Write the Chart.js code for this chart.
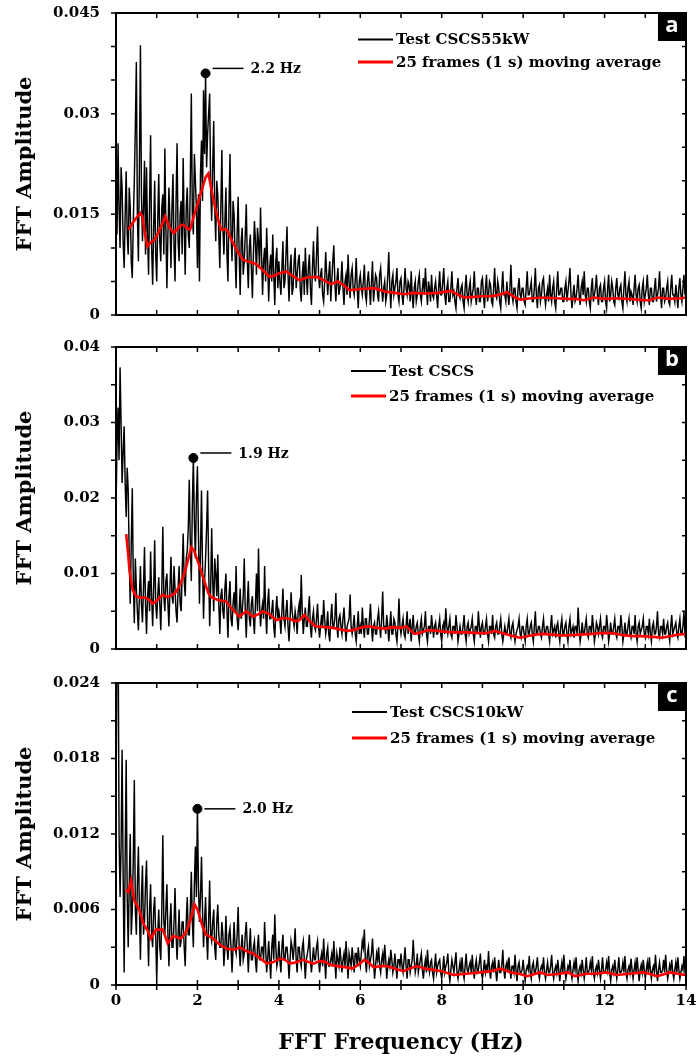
<!DOCTYPE html>
<html><head><meta charset="utf-8">
<script src="https://cdn.jsdelivr.net/npm/chart.js@4.4.1/dist/chart.umd.min.js"></script>
<style>
html,body{margin:0;padding:0;background:#fff;}
#wrap{position:relative;width:697px;height:1061px;background:#fff;}
canvas{position:absolute;left:0;top:0;}
</style></head><body><div id="wrap">
<canvas id="ca" width="697" height="1061"></canvas>
<canvas id="cb" width="697" height="1061"></canvas>
<canvas id="cc" width="697" height="1061"></canvas>
</div>
<script>
// ---------- DATA ----------
const binWidthHz = 0.025; // FFT bin spacing of the spectra below (first bin at 0 Hz)

const spectrumA = [
0.018,0.012,0.0256,0.016,0.01,0.022,0.019,0.011,0.007,0.015,0.0214,0.012,0.009,0.019,0.016,0.008,0.0055,0.014,0.02,0.028,
0.0377,0.015,0.008,0.022,0.0402,0.018,0.011,0.016,0.023,0.009,0.022,0.012,0.006,0.017,0.0268,0.01,0.0045,0.013,0.02,0.009,
0.005,0.014,0.021,0.011,0.008,0.016,0.018,0.009,0.0248,0.013,0.004,0.012,0.019,0.014,0.007,0.016,0.021,0.01,0.005,0.017,
0.0256,0.011,0.008,0.015,0.017,0.009,0.0234,0.013,0.006,0.016,0.019,0.012,0.01,0.02,0.033,0.015,0.012,0.024,0.02,0.016,
0.007,0.018,0.005,0.021,0.026,0.017,0.0335,0.024,0.036,0.022,0.027,0.03,0.033,0.019,0.014,0.022,0.0289,0.016,0.011,0.02,
0.018,0.012,0.007,0.016,0.0246,0.013,0.009,0.014,0.019,0.009,0.005,0.016,0.024,0.012,0.008,0.017,0.015,0.009,0.004,0.012,
0.0176,0.009,0.003,0.011,0.013,0.006,0.008,0.012,0.0165,0.008,0.004,0.01,0.012,0.007,0.0025,0.009,0.014,0.011,0.006,0.013,
0.011,0.007,0.016,0.009,0.003,0.008,0.01,0.005,0.013,0.008,0.002,0.007,0.009,0.005,0.012,0.006,0.0015,0.008,0.01,0.004,
0.008,0.005,0.003,0.007,0.011,0.004,0.005,0.009,0.0132,0.006,0.002,0.007,0.009,0.003,0.004,0.008,0.01,0.004,0.006,0.008,
0.009,0.004,0.002,0.006,0.008,0.003,0.01,0.006,0.003,0.007,0.009,0.004,0.0015,0.007,0.011,0.006,0.005,0.009,0.0132,0.006,
0.004,0.006,0.007,0.003,0.002,0.005,0.0094,0.006,0.003,0.006,0.008,0.002,0.005,0.008,0.0104,0.005,0.002,0.005,0.007,0.003,
0.004,0.005,0.008,0.004,0.0015,0.005,0.006,0.003,0.009,0.005,0.0025,0.006,0.007,0.004,0.003,0.005,0.0085,0.004,0.001,0.005,
0.006,0.004,0.003,0.005,0.0075,0.003,0.002,0.005,0.0065,0.004,0.0015,0.005,0.008,0.002,0.004,0.006,0.0055,0.003,0.002,0.006,
0.007,0.004,0.002,0.004,0.005,0.002,0.003,0.006,0.0094,0.004,0.001,0.005,0.006,0.003,0.004,0.005,0.007,0.003,0.002,0.005,
0.0055,0.003,0.0015,0.004,0.007,0.004,0.003,0.005,0.0045,0.002,0.0065,0.003,0.001,0.004,0.005,0.002,0.003,0.005,0.006,0.003,
0.002,0.004,0.0055,0.003,0.007,0.004,0.0015,0.005,0.004,0.002,0.006,0.003,0.0025,0.004,0.005,0.003,0.001,0.004,0.0065,0.003,
0.003,0.005,0.007,0.003,0.0015,0.004,0.005,0.002,0.002,0.004,0.0065,0.003,0.0035,0.002,0.001,0.004,0.0055,0.003,0.0025,0.004,
0.0045,0.002,0.001,0.004,0.006,0.003,0.002,0.004,0.005,0.002,0.003,0.004,0.0065,0.003,0.0015,0.004,0.004,0.002,0.002,0.005,
0.0055,0.003,0.001,0.004,0.006,0.002,0.003,0.005,0.0045,0.002,0.0015,0.004,0.007,0.003,0.0025,0.005,0.004,0.002,0.001,0.004,
0.0065,0.003,0.003,0.002,0.005,0.003,0.0015,0.004,0.0075,0.003,0.002,0.004,0.004,0.002,0.001,0.004,0.0055,0.003,0.0025,0.004,
0.004,0.002,0.0015,0.004,0.0065,0.003,0.003,0.004,0.005,0.002,0.002,0.004,0.007,0.003,0.001,0.004,0.0045,0.002,0.003,0.005,
0.0055,0.003,0.0015,0.003,0.004,0.002,0.006,0.003,0.002,0.004,0.005,0.002,0.001,0.004,0.0065,0.003,0.003,0.004,0.004,0.002,
0.002,0.004,0.005,0.002,0.0035,0.005,0.007,0.003,0.001,0.003,0.0045,0.002,0.0025,0.004,0.006,0.003,0.0015,0.004,0.005,0.003,
0.0065,0.003,0.002,0.004,0.004,0.002,0.001,0.004,0.0055,0.002,0.003,0.004,0.006,0.003,0.0015,0.004,0.0045,0.002,0.002,0.004,
0.005,0.002,0.001,0.004,0.006,0.002,0.003,0.005,0.004,0.002,0.0015,0.004,0.0055,0.003,0.0025,0.004,0.0045,0.002,0.001,0.004,
0.0065,0.003,0.002,0.004,0.005,0.002,0.0035,0.003,0.0015,0.004,0.006,0.003,0.002,0.004,0.0045,0.002,0.001,0.004,0.005,0.002,
0.003,0.004,0.006,0.003,0.0015,0.004,0.004,0.002,0.002,0.004,0.0055,0.002,0.003,0.004,0.0065,0.003,0.001,0.004,0.004,0.002,
0.0025,0.004,0.005,0.002,0.0015,0.004,0.006,0.003,0.003,0.002,0.0045,0.003,0.001,0.004,0.0055,0.003,0.002,0.004,0.006,0.003,
0.003];

const spectrumB = [
0.0184,0.027,0.032,0.025,0.0373,0.03,0.022,0.026,0.0295,0.022,0.0175,0.024,0.021,0.012,0.006,0.014,0.0213,0.009,0.0034,0.012,
0.008,0.005,0.0025,0.007,0.011,0.006,0.0035,0.008,0.0135,0.006,0.002,0.007,0.009,0.005,0.0129,0.007,0.003,0.008,0.0144,0.006,
0.004,0.007,0.0095,0.006,0.0025,0.008,0.0162,0.007,0.005,0.009,0.01,0.006,0.003,0.008,0.0122,0.007,0.006,0.011,0.008,0.005,
0.0035,0.008,0.011,0.006,0.005,0.01,0.0153,0.009,0.007,0.012,0.013,0.016,0.0224,0.014,0.009,0.019,0.0253,0.017,0.012,0.02,
0.0242,0.015,0.006,0.013,0.021,0.011,0.004,0.009,0.012,0.016,0.021,0.011,0.003,0.008,0.016,0.009,0.005,0.012,0.01,0.007,
0.0125,0.006,0.002,0.007,0.008,0.005,0.004,0.008,0.01,0.005,0.0015,0.007,0.009,0.004,0.003,0.006,0.0075,0.005,0.011,0.004,
0.0025,0.005,0.008,0.004,0.005,0.007,0.012,0.005,0.0015,0.006,0.009,0.004,0.003,0.006,0.007,0.004,0.002,0.006,0.01,0.005,
0.0133,0.006,0.003,0.005,0.006,0.004,0.011,0.005,0.002,0.006,0.008,0.004,0.004,0.005,0.0065,0.003,0.0015,0.005,0.007,0.004,
0.005,0.004,0.002,0.005,0.008,0.004,0.003,0.005,0.0065,0.003,0.001,0.004,0.0075,0.005,0.004,0.003,0.005,0.004,0.002,0.005,
0.006,0.004,0.0098,0.005,0.002,0.004,0.0055,0.003,0.003,0.005,0.007,0.003,0.0015,0.004,0.005,0.003,0.0025,0.004,0.006,0.003,
0.0015,0.003,0.0045,0.003,0.0065,0.004,0.002,0.003,0.005,0.002,0.001,0.004,0.006,0.003,0.003,0.004,0.0074,0.003,0.0015,0.004,
0.0045,0.003,0.002,0.004,0.0055,0.003,0.001,0.003,0.0035,0.004,0.0072,0.003,0.002,0.003,0.0045,0.002,0.001,0.003,0.005,0.002,
0.003,0.002,0.0055,0.003,0.0015,0.004,0.004,0.002,0.002,0.004,0.006,0.003,0.001,0.003,0.0035,0.002,0.002,0.004,0.005,0.003,
0.0015,0.004,0.0076,0.003,0.003,0.002,0.0045,0.003,0.001,0.003,0.005,0.002,0.002,0.004,0.0035,0.002,0.001,0.003,0.0067,0.003,
0.002,0.003,0.004,0.002,0.0015,0.003,0.005,0.002,0.003,0.004,0.001,0.003,0.0045,0.002,0.002,0.003,0.0035,0.002,0.001,0.003,
0.004,0.002,0.0025,0.003,0.005,0.002,0.001,0.003,0.003,0.002,0.0045,0.003,0.0015,0.003,0.0035,0.002,0.002,0.003,0.004,0.002,
0.001,0.003,0.0035,0.002,0.0054,0.003,0.002,0.003,0.004,0.002,0.0015,0.003,0.003,0.002,0.0045,0.003,0.001,0.002,0.003,0.002,
0.002,0.003,0.0045,0.002,0.001,0.003,0.0035,0.002,0.0025,0.003,0.004,0.002,0.001,0.003,0.003,0.002,0.005,0.003,0.0015,0.003,
0.0035,0.002,0.002,0.003,0.004,0.002,0.001,0.003,0.003,0.002,0.0045,0.002,0.0015,0.003,0.0035,0.002,0.002,0.003,0.004,0.002,
0.001,0.002,0.003,0.002,0.002,0.003,0.004,0.002,0.0015,0.003,0.0035,0.002,0.001,0.002,0.0025,0.003,0.004,0.002,0.0015,0.003,
0.003,0.002,0.001,0.003,0.004,0.002,0.002,0.003,0.0035,0.002,0.001,0.003,0.005,0.002,0.002,0.003,0.003,0.002,0.0015,0.003,
0.004,0.002,0.002,0.003,0.003,0.002,0.001,0.003,0.0045,0.002,0.0025,0.003,0.0015,0.003,0.0035,0.002,0.001,0.003,0.004,0.002,
0.002,0.003,0.0035,0.002,0.001,0.003,0.004,0.002,0.0025,0.003,0.0015,0.003,0.003,0.002,0.0055,0.003,0.001,0.002,0.0035,0.002,
0.002,0.003,0.004,0.002,0.0015,0.003,0.003,0.002,0.0045,0.003,0.001,0.002,0.0035,0.003,0.002,0.003,0.004,0.002,0.0015,0.003,
0.003,0.002,0.0045,0.003,0.001,0.002,0.0035,0.002,0.002,0.003,0.004,0.002,0.0015,0.003,0.003,0.002,0.0045,0.003,0.001,0.002,
0.0035,0.002,0.002,0.003,0.004,0.002,0.0015,0.003,0.003,0.002,0.0045,0.002,0.001,0.003,0.0035,0.002,0.0025,0.003,0.004,0.002,
0.0015,0.003,0.003,0.002,0.004,0.002,0.001,0.003,0.0035,0.002,0.002,0.003,0.005,0.002,0.0015,0.003,0.003,0.002,0.004,0.002,
0.002,0.003,0.0035,0.002,0.001,0.003,0.0045,0.002,0.0025,0.003,0.0035,0.002,0.0015,0.003,0.004,0.002,0.002,0.003,0.005,0.002,
0.0025];

const spectrumC = [
0.0132,0.028,0.03,0.012,0.007,0.011,0.0187,0.009,0.001,0.01,0.0179,0.007,0.003,0.008,0.012,0.004,0.006,0.01,0.0163,0.006,
0.004,0.008,0.011,0.006,0.002,0.007,0.0095,0.004,0.005,0.008,0.0099,0.005,0.0015,0.006,0.008,0.004,0.003,0.006,0.007,0.004,
0.0003,0.004,0.006,0.003,0.002,0.006,0.0119,0.005,0.004,0.006,0.008,0.004,0.0015,0.005,0.0065,0.003,0.003,0.005,0.0077,0.004,
0.002,0.004,0.006,0.003,0.0035,0.005,0.005,0.003,0.0015,0.005,0.007,0.004,0.004,0.006,0.009,0.005,0.003,0.008,0.011,0.007,
0.014,0.008,0.005,0.007,0.0102,0.006,0.003,0.005,0.007,0.004,0.002,0.005,0.0083,0.004,0.0035,0.005,0.006,0.003,0.002,0.005,
0.0064,0.004,0.003,0.003,0.005,0.004,0.0015,0.003,0.0055,0.003,0.002,0.004,0.0045,0.003,0.001,0.003,0.005,0.003,0.0025,0.004,
0.0062,0.003,0.0015,0.003,0.004,0.002,0.0025,0.004,0.005,0.003,0.001,0.003,0.0045,0.002,0.002,0.003,0.0035,0.002,0.001,0.003,
0.004,0.002,0.002,0.003,0.003,0.002,0.005,0.003,0.001,0.002,0.0035,0.002,0.0005,0.003,0.004,0.002,0.0056,0.003,0.0015,0.002,
0.0035,0.002,0.001,0.003,0.004,0.002,0.002,0.003,0.003,0.002,0.0005,0.002,0.0035,0.003,0.002,0.003,0.0045,0.002,0.001,0.003,
0.003,0.002,0.0015,0.003,0.0035,0.002,0.0005,0.002,0.0025,0.003,0.004,0.002,0.001,0.002,0.003,0.002,0.002,0.003,0.0035,0.002,
0.001,0.002,0.0025,0.0015,0.0037,0.002,0.0005,0.0025,0.003,0.0015,0.0015,0.002,0.0025,0.0015,0.0035,0.002,0.0005,0.0025,0.002,0.0015,
0.003,0.002,0.001,0.002,0.0025,0.0015,0.0035,0.002,0.0005,0.0025,0.002,0.0015,0.003,0.002,0.001,0.0025,0.0025,0.0015,0.003,0.002,
0.0015,0.0025,0.0035,0.003,0.0044,0.002,0.001,0.0025,0.003,0.0015,0.002,0.0025,0.0037,0.002,0.0005,0.0015,0.0025,0.002,0.003,0.0015,
0.001,0.002,0.0025,0.0015,0.0032,0.002,0.0005,0.0015,0.002,0.0015,0.0028,0.002,0.001,0.0015,0.0025,0.0015,0.0005,0.002,0.002,0.0015,
0.0025,0.0015,0.001,0.002,0.003,0.0015,0.0005,0.002,0.002,0.001,0.0015,0.002,0.0036,0.002,0.001,0.0015,0.0025,0.001,0.0015,0.002,
0.0025,0.0012,0.0005,0.0015,0.002,0.001,0.0028,0.0015,0.001,0.0018,0.002,0.001,0.0005,0.0015,0.0025,0.001,0.0015,0.0018,0.002,0.001,
0.0005,0.0012,0.0023,0.001,0.0015,0.0018,0.0025,0.001,0.0003,0.0012,0.002,0.0015,0.001,0.0018,0.0026,0.001,0.0005,0.0012,0.0018,0.001,
0.0022,0.001,0.0005,0.0015,0.0025,0.0012,0.001,0.0015,0.0018,0.001,0.0024,0.0012,0.0005,0.0015,0.002,0.001,0.0012,0.0018,0.0025,0.001,
0.0005,0.0012,0.002,0.001,0.0015,0.0012,0.0027,0.0012,0.0005,0.0015,0.0018,0.001,0.0022,0.0012,0.0003,0.0012,0.002,0.001,0.001,0.0015,
0.0028,0.0012,0.0005,0.0015,0.0018,0.001,0.0022,0.0012,0.0005,0.0015,0.0015,0.001,0.0024,0.0012,0.0003,0.0015,0.0018,0.001,0.001,0.0012,
0.002,0.001,0.0003,0.0012,0.0015,0.0012,0.0023,0.001,0.0005,0.0015,0.0018,0.001,0.001,0.0015,0.0022,0.001,0.0005,0.0012,0.0015,0.0012,
0.0022,0.001,0.0005,0.0012,0.0018,0.001,0.001,0.0015,0.0024,0.001,0.0005,0.0012,0.0015,0.001,0.002,0.0012,0.0003,0.0012,0.0018,0.001,
0.0024,0.0012,0.0005,0.001,0.0015,0.0012,0.002,0.001,0.0005,0.0012,0.0018,0.0012,0.0022,0.001,0.0003,0.0012,0.0015,0.001,0.002,0.0012,
0.0005,0.0012,0.0022,0.001,0.001,0.0012,0.0018,0.0012,0.0023,0.001,0.0005,0.0012,0.0015,0.001,0.002,0.0012,0.0005,0.0012,0.0022,0.001,
0.001,0.0012,0.0018,0.0012,0.0023,0.001,0.0003,0.0012,0.0015,0.001,0.002,0.0012,0.0005,0.0012,0.0022,0.001,0.001,0.0012,0.0018,0.001,
0.0023,0.001,0.0005,0.0012,0.0015,0.001,0.0021,0.0012,0.0005,0.0012,0.0018,0.001,0.0022,0.0012,0.0003,0.0012,0.0016,0.001,0.002,0.0012,
0.0005,0.0012,0.0018,0.001,0.0022,0.0012,0.0005,0.0012,0.0015,0.001,0.0024,0.0012,0.0003,0.0012,0.0018,0.001,0.001,0.0012,0.002,0.001,
0.0024,0.0012,0.0005,0.001,0.0016,0.0012,0.002,0.001,0.0005,0.0012,0.0018,0.001,0.0022,0.0012,0.0005,0.001,0.0015,0.0012,0.0023,0.001,
0.001];

// 25-frame moving averages (frequency, amplitude)
const avgFreqA = [0.3,0.4,0.5,0.6,0.65,0.7,0.77,0.85,0.95,1.05,1.15,1.21,1.3,1.42,1.5,1.6,1.66,1.75,1.82,1.9,2.0,2.1,2.2,2.27,2.35,2.45,2.58,2.7,2.75,2.85,3.0,3.12,3.3,3.44,3.6,3.77,3.9,4.0,4.18,4.3,4.5,4.7,4.92,5.1,5.28,5.45,5.6,5.74,5.9,6.1,6.35,6.6,6.85,7.08,7.3,7.6,7.9,8.23,8.4,8.56,8.8,9.0,9.2,9.4,9.61,9.8,9.93,10.2,10.5,10.8,11.1,11.3,11.49,11.74,12.0,12.3,12.6,12.97,13.1,13.3,13.6,13.87,14.0];
const avgA = [0.0127,0.0136,0.0145,0.0152,0.0146,0.0125,0.0102,0.0108,0.0112,0.0124,0.0138,0.0147,0.0132,0.0122,0.0128,0.0134,0.0134,0.0129,0.0127,0.0145,0.0165,0.0185,0.0205,0.0211,0.0185,0.0155,0.0127,0.0128,0.0124,0.011,0.0093,0.0082,0.0079,0.0076,0.0067,0.0057,0.0059,0.0062,0.0065,0.006,0.0052,0.0056,0.0057,0.0052,0.0046,0.005,0.0044,0.0037,0.0038,0.0039,0.004,0.0035,0.0033,0.0031,0.0033,0.0032,0.0033,0.0036,0.003,0.0026,0.0027,0.0028,0.0028,0.003,0.0034,0.0026,0.0023,0.0025,0.0026,0.0025,0.0024,0.0024,0.0022,0.0026,0.0024,0.0025,0.0024,0.0022,0.0022,0.0026,0.0024,0.0025,0.0026];

const avgFreqB = [0.25,0.3,0.33,0.37,0.41,0.49,0.6,0.7,0.82,0.9,1.0,1.07,1.15,1.23,1.31,1.4,1.48,1.58,1.68,1.77,1.85,1.92,1.97,2.05,2.13,2.2,2.27,2.33,2.5,2.7,2.85,3.03,3.2,3.36,3.5,3.6,3.75,3.93,4.1,4.26,4.4,4.5,4.63,4.75,4.9,5.12,5.33,5.5,5.7,5.9,6.05,6.23,6.4,6.6,6.8,7.0,7.13,7.33,7.5,7.66,7.9,8.06,8.3,8.6,8.9,9.1,9.3,9.5,9.7,9.92,10.1,10.3,10.5,10.7,10.9,11.1,11.4,11.7,11.9,12.2,12.5,12.7,12.9,13.2,13.4,13.6,13.8,14.0];
const avgB = [0.0152,0.0125,0.0105,0.009,0.0078,0.007,0.0068,0.0068,0.0065,0.006,0.0064,0.0068,0.0072,0.0069,0.007,0.0072,0.0076,0.0086,0.01,0.0118,0.0135,0.013,0.0122,0.011,0.0096,0.0085,0.0074,0.0069,0.0065,0.0063,0.0053,0.0043,0.005,0.0043,0.0046,0.005,0.0047,0.0038,0.0041,0.004,0.0037,0.0038,0.0045,0.0037,0.003,0.0029,0.0028,0.0026,0.0024,0.0026,0.0029,0.003,0.0028,0.0027,0.0029,0.0028,0.003,0.002,0.0022,0.0025,0.0024,0.0023,0.0022,0.0022,0.0021,0.0021,0.0024,0.0021,0.0018,0.0015,0.0017,0.0019,0.002,0.0019,0.0018,0.0018,0.0019,0.002,0.0021,0.0021,0.0018,0.0017,0.0017,0.0016,0.0015,0.0017,0.0019,0.002];

const avgFreqC = [0.25,0.3,0.37,0.45,0.57,0.67,0.78,0.86,0.98,1.15,1.27,1.4,1.5,1.6,1.7,1.77,1.85,1.93,2.0,2.05,2.13,2.21,2.38,2.55,2.71,2.9,3.04,3.2,3.37,3.55,3.7,3.85,4.03,4.15,4.27,4.42,4.6,4.75,4.85,5.0,5.1,5.25,5.44,5.66,5.8,5.95,6.1,6.2,6.33,6.5,6.66,6.85,7.06,7.2,7.39,7.6,7.8,8.0,8.29,8.6,8.95,9.2,9.44,9.7,9.9,10.1,10.42,10.6,10.9,11.1,11.27,11.56,11.8,12.05,12.3,12.6,12.95,13.1,13.3,13.6,13.8,13.95,14.0];
const avgC = [0.0076,0.0074,0.0083,0.0067,0.006,0.0049,0.0043,0.0037,0.0044,0.0044,0.0033,0.0039,0.0038,0.0037,0.0041,0.0046,0.0054,0.0064,0.006,0.0055,0.0046,0.004,0.0037,0.0032,0.0029,0.0028,0.003,0.0027,0.0025,0.0021,0.0017,0.0018,0.0021,0.002,0.0017,0.0018,0.002,0.0018,0.0017,0.0019,0.0019,0.0016,0.0015,0.0014,0.0013,0.0016,0.002,0.0018,0.0014,0.0015,0.0015,0.0013,0.0011,0.0013,0.0015,0.0013,0.0012,0.0011,0.0008,0.0009,0.001,0.0011,0.0013,0.001,0.0009,0.0007,0.001,0.0008,0.0009,0.001,0.0007,0.0009,0.0009,0.001,0.0008,0.0009,0.001,0.0009,0.0007,0.001,0.0009,0.0008,0.0009];

const seriesNames = ['Test CSCS55kW', 'Test CSCS', 'Test CSCS10kW'];
const avgName = '25 frames (1 s) moving average';
const panelLetters = ['a', 'b', 'c'];
const peakFreq = [2.2, 1.9, 2.0];
const peakAmp = [0.036, 0.0253, 0.014];
const peakLabels = ['2.2 Hz', '1.9 Hz', '2.0 Hz'];

const yTicksA = [0, 0.015, 0.03, 0.045];
const yTicksB = [0, 0.01, 0.02, 0.03, 0.04];
const yTicksC = [0, 0.006, 0.012, 0.018, 0.024];
const yMarksA = [0,0.005,0.01,0.015,0.02,0.025,0.03,0.035,0.04,0.045];
const yMarksB = [0,0.005,0.01,0.015,0.02,0.025,0.03,0.035,0.04];
const yMarksC = [0,0.003,0.006,0.009,0.012,0.015,0.018,0.021,0.024];
const xTickLabels = [0, 2, 4, 6, 8, 10, 12, 14];
const xTickMarks = [0,1,2,3,4,5,6,7,8,9,10,11,12,13,14];
const xTitle = 'FFT Frequency (Hz)';
const yTitle = 'FFT Amplitude';

// ---------- RENDER ----------
const SERIF = 'DejaVu Serif';
const toBins = arr => arr.map((v, i) => ({x: Math.round(i * binWidthHz * 1000) / 1000, y: v}));
const toXY = (fs, vs) => fs.map((f, i) => ({x: f, y: vs[i]}));

const panelDecor = {
  id: 'panelDecor',
  afterDraw(chart, args, o) {
    const {ctx, chartArea: ca} = chart;
    const x = chart.scales.x, y = chart.scales.y;
    const tl = 5;
    ctx.save();
    ctx.strokeStyle = '#000';
    ctx.lineWidth = 1.5;
    ctx.beginPath();
    xTickMarks.forEach(f => {
      const px = x.getPixelForValue(f);
      ctx.moveTo(px, ca.top); ctx.lineTo(px, ca.top + tl);
      ctx.moveTo(px, ca.bottom + (o.bottomOut ? tl : 0)); ctx.lineTo(px, ca.bottom - tl);
    });
    o.yMarks.forEach(v => {
      const py = y.getPixelForValue(v);
      ctx.moveTo(ca.left - tl, py); ctx.lineTo(ca.left, py);
      ctx.moveTo(ca.right, py); ctx.lineTo(ca.right - 4, py);
    });
    ctx.stroke();
    ctx.lineWidth = 2;
    ctx.strokeRect(ca.left, ca.top, ca.right - ca.left, ca.bottom - ca.top);
    // panel letter
    ctx.fillStyle = '#000';
    ctx.fillRect(ca.right - 28, ca.top, 28, 28);
    ctx.fillStyle = '#fff';
    ctx.font = 'bold 22px "Open Sans"';
    ctx.textAlign = 'center'; ctx.textBaseline = 'middle';
    ctx.fillText(o.letter, ca.right - 14, ca.top + 13);
    // legend
    ctx.textAlign = 'left';
    ctx.fillStyle = '#000';
    ctx.font = 'bold 15px "' + SERIF + '"';
    const ds = chart.data.datasets;
    ctx.lineWidth = 2; ctx.strokeStyle = '#000';
    ctx.beginPath(); ctx.moveTo(o.legX - 38, o.legY1); ctx.lineTo(o.legX - 3, o.legY1); ctx.stroke();
    ctx.fillText(ds[2].label, o.legX, o.legY1 + 1);
    ctx.lineWidth = 3; ctx.strokeStyle = '#ff0000';
    ctx.beginPath(); ctx.moveTo(o.legX - 38, o.legY2); ctx.lineTo(o.legX - 3, o.legY2); ctx.stroke();
    ctx.fillText(ds[1].label, o.legX, o.legY2 + 1);
    // peak annotation
    const px = x.getPixelForValue(o.peakF), py = y.getPixelForValue(o.peakA);
    ctx.strokeStyle = '#000'; ctx.lineWidth = 1.5;
    ctx.beginPath(); ctx.moveTo(px + 7, py + o.annDy); ctx.lineTo(px + 38, py + o.annDy); ctx.stroke();
    ctx.font = 'bold 14px "' + SERIF + '"';
    ctx.fillText(o.peakLabel, px + 45, py + o.annDy + 1);
    ctx.restore();
  }
};

function makePanel(id, k, spectrum, avgF, avgV, yMax, yTicks, yMarks, showX, pad, legX, legY1, legY2, annDy) {
  return new Chart(document.getElementById(id), {
    type: 'line',
    data: {
      datasets: [
        {type: 'scatter', label: 'peak', data: [{x: peakFreq[k], y: peakAmp[k]}], pointRadius: 4.5, pointBackgroundColor: '#000', pointBorderColor: '#000', order: 1},
        {label: avgName, data: toXY(avgF, avgV), borderColor: '#ff0000', borderWidth: 2.6, pointRadius: 0, tension: 0, order: 2},
        {label: seriesNames[k], data: toBins(spectrum), borderColor: '#000', borderWidth: 1.45, pointRadius: 0, tension: 0, order: 3}
      ]
    },
    options: {
      responsive: false, animation: false, devicePixelRatio: 1,
      layout: {padding: pad},
      plugins: {
        legend: {display: false}, tooltip: {enabled: false},
        panelDecor: {letter: panelLetters[k], yMarks, bottomOut: showX, legX, legY1, legY2,
                     peakF: peakFreq[k], peakA: peakAmp[k], peakLabel: peakLabels[k], annDy}
      },
      scales: {
        x: {
          type: 'linear', min: 0, max: 14, display: showX,
          grid: {display: false, drawTicks: false}, border: {display: false},
          afterBuildTicks: s => { s.ticks = xTickLabels.map(v => ({value: v})); },
          afterFit: s => { if (showX) s.height = 76; s.paddingLeft = 0; s.paddingRight = 0; },
          ticks: {color: '#000', padding: 7, font: {family: SERIF, weight: 'bold', size: 15}, maxRotation: 0},
          title: {display: true, text: xTitle, color: '#000', padding: {top: 0, bottom: 5}, font: {family: SERIF, weight: 'bold', size: 22}}
        },
        y: {
          type: 'linear', min: 0, max: yMax,
          grid: {display: false, drawTicks: false}, border: {display: false},
          afterBuildTicks: s => { s.ticks = yTicks.map(v => ({value: v})); },
          afterFit: s => { s.width = 116; s.paddingTop = 0; s.paddingBottom = 0; },
          ticks: {color: '#000', padding: 16, font: {family: SERIF, weight: 'bold', size: 15},
                  callback: v => String(parseFloat(Number(v).toFixed(4)))},
          title: {display: true, text: yTitle, color: '#000', padding: {top: 13, bottom: 0}, font: {family: SERIF, weight: 'bold', size: 21}}
        }
      }
    },
    plugins: [panelDecor]
  });
}

makePanel('ca', 0, spectrumA, avgFreqA, avgA, 0.045, yTicksA, yMarksA, false,
  {left: 0, right: 11, top: 13, bottom: 746}, 396, 39.5, 62, -5);
makePanel('cb', 1, spectrumB, avgFreqB, avgB, 0.04, yTicksB, yMarksB, false,
  {left: 0, right: 11, top: 347, bottom: 412}, 389, 371, 396, -5);
makePanel('cc', 2, spectrumC, avgFreqC, avgC, 0.024, yTicksC, yMarksC, true,
  {left: 0, right: 11, top: 683, bottom: 0}, 390, 712, 738, 0);
</script>
</body></html>
